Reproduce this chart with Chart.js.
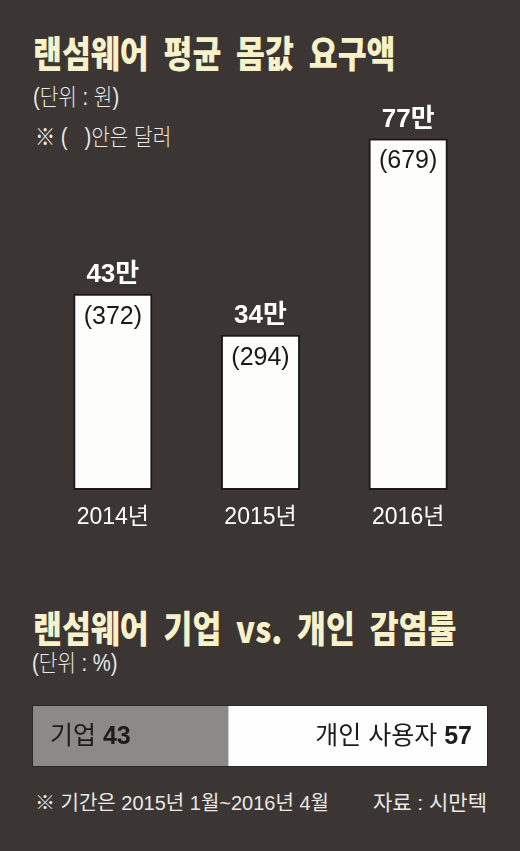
<!DOCTYPE html>
<html lang="ko">
<head>
<meta charset="utf-8">
<script src="https://cdn.jsdelivr.net/npm/chart.js@4/dist/chart.umd.min.js"></script>
<style>
  html, body { margin: 0; padding: 0; }
  body {
    width: 520px; height: 851px; overflow: hidden; position: relative;
    background: #3b3634;
    font-family: "Liberation Sans", "Noto Sans CJK KR", sans-serif;
  }
  .abs { position: absolute; white-space: nowrap; }
  .title {
    font-family: "Noto Sans CJK KR", sans-serif;
    font-weight: 900; font-size: 37px; line-height: 37px;
    color: #f7f2c9; word-spacing: 7px;
    transform: scaleX(0.85); transform-origin: 0 0;
  }
  .note {
    font-family: "Liberation Sans", "Noto Sans CJK KR", sans-serif;
    font-weight: 300; font-size: 23px; line-height: 23px; color: #ebe8e4;
    transform: scaleX(0.88); transform-origin: 0 0;
  }
  .foot {
    font-family: "Liberation Sans", "Noto Sans CJK KR", sans-serif;
    font-size: 20px; line-height: 20px; color: #ebe8e4;
  }
  canvas { position: absolute; }
</style>
</head>
<body>
<div class="abs title" style="left:33px; top:34px;">랜섬웨어 평균 몸값 요구액</div>
<div class="abs note" style="left:33px; top:86px;">(단위 : 원)</div>
<div class="abs note" style="left:35px; top:126px;">※ (&nbsp;&nbsp;&nbsp;)안은 달러</div>

<canvas id="ransom" width="520" height="560" style="left:0; top:0;"></canvas>

<div class="abs title" style="left:33px; top:609px;">랜섬웨어 기업 vs. 개인 감염률</div>
<div class="abs note" style="left:32px; top:652px;">(단위 : %)</div>

<canvas id="share" width="456" height="62" style="left:32px; top:705px;"></canvas>

<div class="abs foot" style="left:35px; top:793px;">※ 기간은 2015년 1월~2016년 4월</div>
<div class="abs foot" style="right:33px; top:793px; font-size:21px;">자료 : 시만텍</div>

<script>
// Average ransom demanded per year
const years = ['2014년', '2015년', '2016년'];
const ransomWon = [43, 34, 77];      // 만원
const ransomUsd = [372, 294, 679];   // 달러

// Infection share: companies vs. individuals (%)
const targetLabels = ['기업', '개인 사용자'];
const targetShares = [43, 57];

const FONT = '"Liberation Sans", "Noto Sans CJK KR", sans-serif';

// Value labels: won amount above each bar, dollar amount inside its top
const ransomLabels = {
  id: 'ransomLabels',
  afterDatasetsDraw(chart) {
    const ctx = chart.ctx;
    const meta = chart.getDatasetMeta(0);
    ctx.save();
    ctx.textAlign = 'center';
    meta.data.forEach((bar, i) => {
      ctx.fillStyle = '#ffffff';
      ctx.font = 'bold 26px ' + FONT;
      ctx.textBaseline = 'alphabetic';
      ctx.fillText(ransomWon[i] + '만', bar.x, bar.y - 12);
      ctx.fillStyle = '#1c1a19';
      ctx.font = '25px ' + FONT;
      ctx.textBaseline = 'middle';
      ctx.fillText('(' + ransomUsd[i] + ')', bar.x, bar.y + 23);
    });
    ctx.restore();
  }
};

new Chart(document.getElementById('ransom'), {
  type: 'bar',
  data: {
    labels: years,
    datasets: [{
      data: ransomWon,
      backgroundColor: '#fdfdfb',
      borderColor: '#1b1918',
      borderWidth: 2,
      borderSkipped: false,
      categoryPercentage: 1,
      barPercentage: 0.536
    }]
  },
  options: {
    responsive: false,
    animation: false,
    devicePixelRatio: 1,
    layout: { padding: { left: 39, right: 38, top: 102, bottom: 20 } },
    plugins: { legend: { display: false }, tooltip: { enabled: false } },
    scales: {
      x: {
        grid: { display: false, drawTicks: false },
        border: { display: false },
        ticks: { color: '#ffffff', padding: 14, font: { family: FONT, size: 23 } },
        afterFit(scale) { scale.height = 50; }
      },
      y: { display: false, min: 0, max: 85 }
    }
  },
  plugins: [ransomLabels]
});

// Labels inside the stacked share bar: name in regular, value in bold
const shareLabels = {
  id: 'shareLabels',
  afterDatasetsDraw(chart) {
    const ctx = chart.ctx;
    ctx.save();
    ctx.fillStyle = '#1e1b1a';
    ctx.textBaseline = 'middle';
    chart.data.datasets.forEach((ds, i) => {
      const bar = chart.getDatasetMeta(i).data[0];
      const name = targetLabels[i] + ' ';
      const val = String(targetShares[i]);
      ctx.font = '25px ' + FONT;
      const wName = ctx.measureText(name).width;
      ctx.font = 'bold 25px ' + FONT;
      const wVal = ctx.measureText(val).width;
      const left = i === 0 ? bar.base + 18 : bar.x - 16 - wName - wVal;
      ctx.textAlign = 'left';
      ctx.font = '25px ' + FONT;
      ctx.fillText(name, left, bar.y + 1);
      ctx.font = 'bold 25px ' + FONT;
      ctx.fillText(val, left + wName, bar.y + 1);
    });
    // thin dark outline round the whole bar
    const a = chart.chartArea;
    ctx.strokeStyle = '#2a2624';
    ctx.lineWidth = 1;
    ctx.strokeRect(a.left + 0.5, a.top + 0.5, a.right - a.left - 1, a.bottom - a.top - 1);
    ctx.restore();
  }
};

new Chart(document.getElementById('share'), {
  type: 'bar',
  data: {
    labels: [''],
    datasets: [
      { label: targetLabels[0], data: [targetShares[0]], backgroundColor: '#8b8a89' },
      { label: targetLabels[1], data: [targetShares[1]], backgroundColor: '#fefefe' }
    ]
  },
  options: {
    indexAxis: 'y',
    responsive: false,
    animation: false,
    devicePixelRatio: 1,
    layout: { padding: 0 },
    datasets: { bar: { categoryPercentage: 1, barPercentage: 1, borderWidth: 0 } },
    plugins: { legend: { display: false }, tooltip: { enabled: false } },
    scales: {
      x: { display: false, stacked: true, min: 0, max: 100 },
      y: { display: false, stacked: true }
    }
  },
  plugins: [shareLabels]
});
</script>
</body>
</html>
